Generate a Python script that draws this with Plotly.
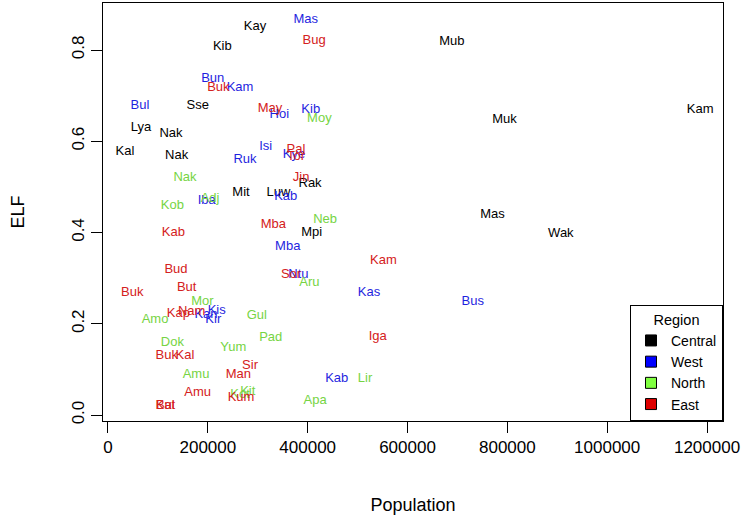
import plotly.graph_objects as go

# ---- data ----
central_lbl = ["Kay", "Kib", "Mub", "Sse", "Lya", "Nak", "Kal", "Nak", "Mit", "Luw", "Rak", "Mpi", "Muk", "Kam", "Mas", "Wak"]
central_pop = [294600, 229100, 688700, 179700, 66100, 126300, 34100, 137600, 266500, 341300, 404800, 408200, 794200, 1186400, 770200, 907200]
central_elf = [0.851, 0.807, 0.818, 0.677, 0.630, 0.617, 0.577, 0.568, 0.488, 0.488, 0.508, 0.400, 0.647, 0.668, 0.438, 0.398]

west_lbl = ["Mas", "Bun", "Kam", "Bul", "Hoi", "Kib", "Isi", "Ruk", "Kye", "Kab", "Iba", "Mba", "Ntu", "Kas", "Bus", "Kis", "Kan", "Kir", "Kab"]
west_pop = [396200, 209800, 264500, 64100, 343300, 406200, 316000, 274500, 372700, 356100, 197800, 360100, 381400, 523000, 730800, 217800, 196400, 211000, 458300]
west_elf = [0.867, 0.738, 0.717, 0.677, 0.658, 0.668, 0.588, 0.559, 0.570, 0.479, 0.469, 0.369, 0.308, 0.268, 0.248, 0.228, 0.219, 0.208, 0.079]

north_lbl = ["Moy", "Nak", "Adj", "Kob", "Neb", "Aru", "Mor", "Amo", "Gul", "Pad", "Dok", "Yum", "Amu", "Lir", "Kit", "Kot", "Apa"]
north_pop = [423500, 154300, 204400, 128900, 434900, 403400, 189000, 94200, 298000, 326000, 128900, 251100, 176400, 515000, 280000, 264500, 414800]
north_elf = [0.650, 0.519, 0.473, 0.458, 0.427, 0.289, 0.248, 0.208, 0.218, 0.169, 0.159, 0.148, 0.088, 0.079, 0.051, 0.044, 0.031]

east_lbl = ["Bug", "Buk", "May", "Pal", "Tor", "Jin", "Kab", "Mba", "Kam", "Bud", "Sor", "Buk", "But", "Kap", "Nam", "Buk", "Kal", "Iga", "Sir", "Man", "Amu", "Kum", "Kat", "Bul"]
east_pop = [412800, 221100, 324600, 376500, 376700, 386800, 130900, 331300, 551700, 136300, 366700, 48700, 157700, 140900, 167700, 117600, 154300, 540400, 284600, 261100, 179700, 266500, 114900, 114900]
east_elf = [0.820, 0.717, 0.672, 0.582, 0.565, 0.520, 0.400, 0.418, 0.338, 0.318, 0.308, 0.267, 0.278, 0.223, 0.226, 0.129, 0.129, 0.172, 0.107, 0.088, 0.048, 0.039, 0.020, 0.020]

regions = ["Central", "West", "North", "East"]
text_colors = ["#000000", "#1f1fe0", "#76d443", "#d42020"]
legend_colors = ["#000000", "#0000ff", "#80ff40", "#dd0000"]

x_ticks = [0, 200000, 400000, 600000, 800000, 1000000, 1200000]
y_ticks = [0.0, 0.2, 0.4, 0.6, 0.8]

FONT = "Liberation Sans, Arial, Helvetica, sans-serif"

fig = go.Figure()
series = [
    (central_lbl, central_pop, central_elf),
    (west_lbl, west_pop, west_elf),
    (north_lbl, north_pop, north_elf),
    (east_lbl, east_pop, east_elf),
]
for (lbl, pop, elf), col in zip(series, text_colors):
    fig.add_trace(go.Scatter(
        x=pop, y=elf, text=lbl, mode="text",
        textposition="middle center",
        textfont=dict(family=FONT, size=13, color=col),
        showlegend=False, hoverinfo="skip",
    ))

for name, col in zip(regions, legend_colors):
    fig.add_trace(go.Scatter(
        x=[None], y=[None], mode="markers", name=name,
        marker=dict(symbol="square", size=11, color=col, line=dict(color="black", width=1)),
    ))

fig.update_layout(
    width=745, height=523,
    margin=dict(l=103, r=22, t=3, b=102, autoexpand=False),
    plot_bgcolor="white", paper_bgcolor="white",
    font=dict(family=FONT, color="black"),
    legend=dict(
        x=1, xanchor="right", y=0, yanchor="bottom",
        bordercolor="black", borderwidth=1, bgcolor="white",
        font=dict(family=FONT, size=14),
        title=dict(text="Region", side="top center", font=dict(family=FONT, size=14.5)),
        tracegroupgap=0, itemwidth=30,
    ),
)
fig.update_xaxes(
    range=[-10000, 1232000], tickvals=x_ticks, tickformat="d",
    showgrid=False, zeroline=False, automargin=False,
    showline=True, mirror=True, linecolor="black", linewidth=1,
    ticks="outside", ticklen=11, tickcolor="black",
    tickfont=dict(family=FONT, size=17),
    title=dict(text="Population", font=dict(family=FONT, size=18), standoff=41),
)
fig.update_yaxes(
    range=[-0.013, 0.903], tickvals=y_ticks, tickformat=".1f",
    showgrid=False, zeroline=False, automargin=False,
    showline=True, mirror=True, linecolor="black", linewidth=1,
    ticks="outside", ticklen=11, tickcolor="black", tickangle=-90,
    tickfont=dict(family=FONT, size=17),
    title=dict(text="ELF", font=dict(family=FONT, size=18), standoff=39),
)

fig.write_html("out.html", config={"displayModeBar": False},
               post_script="document.body.style.margin='0';")
